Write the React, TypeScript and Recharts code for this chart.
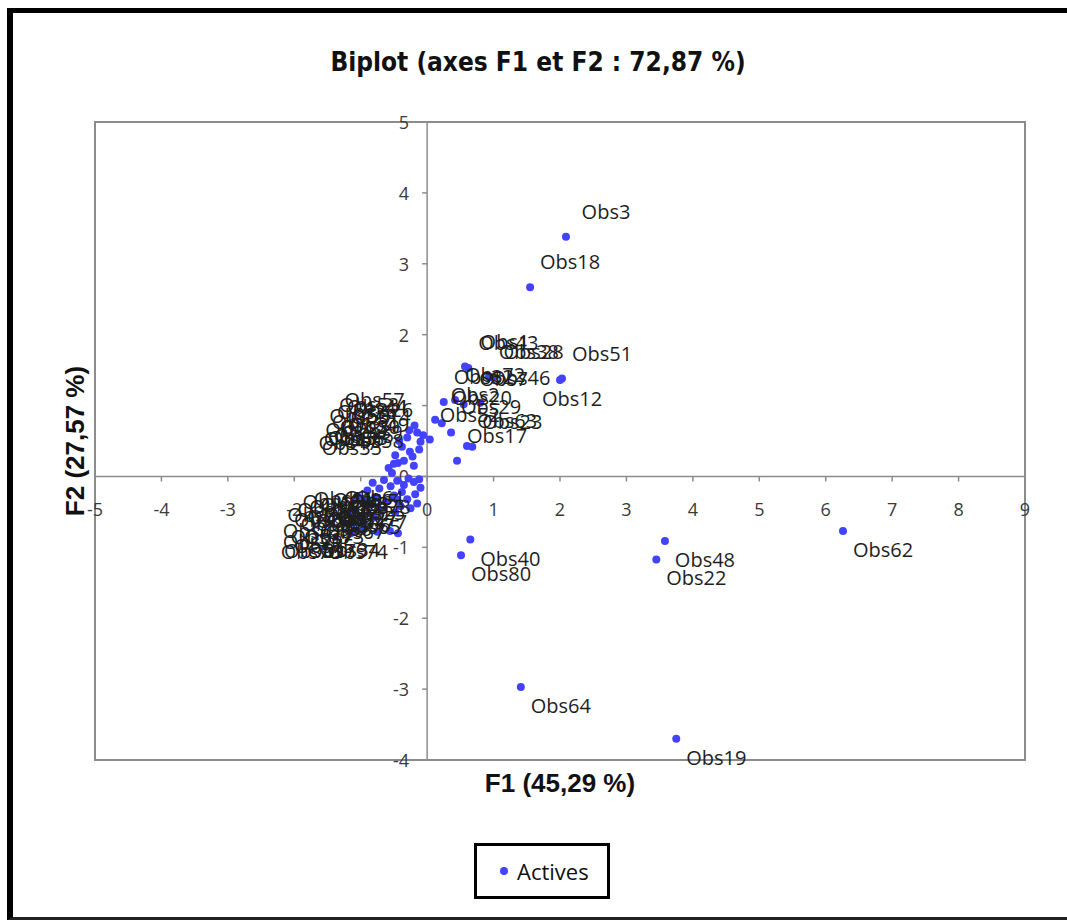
import React from "react";
import {
  ScatterChart,
  Scatter,
  XAxis,
  YAxis,
  ReferenceArea,
  ReferenceLine,
  ReferenceDot,
} from "recharts";

const xTicks = [-5, -4, -3, -2, -1, 0, 1, 2, 3, 4, 5, 6, 7, 8, 9];
const yTicks = [-4, -3, -2, -1, 0, 1, 2, 3, 4, 5];

const obsNames = [
  "Obs3", "Obs18", "Obs51", "Obs12", "Obs62", "Obs48", "Obs22", "Obs19", "Obs64", "Obs40",
  "Obs80", "Obs1", "Obs43", "Obs38", "Obs28", "Obs46", "Obs32", "Obs72", "Obs7", "Obs20",
  "Obs2", "Obs52", "Obs23", "Obs63", "Obs17", "Obs29",
  "Obs57", "Obs14", "Obs26", "Obs30", "Obs33", "Obs35", "Obs36", "Obs37", "Obs39", "Obs42",
  "Obs44", "Obs45", "Obs47", "Obs49", "Obs50", "Obs53", "Obs56", "Obs58",
  "Obs4", "Obs5", "Obs6", "Obs8", "Obs9", "Obs10", "Obs11", "Obs13", "Obs15", "Obs16",
  "Obs21", "Obs24", "Obs25", "Obs27", "Obs31", "Obs34", "Obs41", "Obs54", "Obs55", "Obs59",
  "Obs60", "Obs61", "Obs65", "Obs66", "Obs67", "Obs68", "Obs69", "Obs70", "Obs71", "Obs73",
  "Obs74", "Obs75", "Obs76", "Obs77", "Obs78", "Obs79",
];

const f1Values = [
  2.09, 1.55, 2.03, 2.0, 6.26, 3.58, 3.45, 3.75, 1.41, 0.65,
  0.51, 0.57, 0.62, 0.93, 1.0, 0.8, 0.25, 0.42, 0.55, 0.22,
  0.12, 0.04, 0.68, 0.6, 0.45, 0.36,
  -0.19, -0.1, -0.06, -0.26, -0.44, -0.53, -0.3, -0.38, -0.22, -0.48,
  -0.15, -0.35, -0.58, -0.12, -0.42, -0.27, -0.5, -0.2,
  -0.12, -0.2, -0.28, -0.35, -0.45, -0.55, -0.65, -0.72, -0.82, -0.9,
  -0.38, -1.05, -0.18, -0.3, -0.5, -0.56, -0.62, -0.75, -0.85, -1.1,
  -0.95, -1.12, -0.25, -0.4, -0.48, -0.68, -1.0, -1.12, -0.45, -0.8,
  -0.44, -0.95, -1.15, -0.15, -0.1, -0.75,
];

const f2Values = [
  3.38, 2.67, 1.38, 1.36, -0.77, -0.91, -1.17, -3.7, -2.97, -0.89,
  -1.11, 1.55, 1.53, 1.4, 1.4, 1.04, 1.05, 1.08, 1.02, 0.75,
  0.8, 0.52, 0.42, 0.43, 0.22, 0.62,
  0.72, 0.49, 0.58, 0.35, 0.19, 0.05, 0.55, 0.42, 0.28, 0.3,
  0.62, 0.22, 0.12, 0.38, 0.5, 0.65, 0.18, 0.15,
  -0.04, -0.08, -0.03, -0.12, -0.06, -0.14, -0.05, -0.17, -0.09, -0.2,
  -0.22, -0.28, -0.25, -0.32, -0.27, -0.77, -0.36, -0.3, -0.4, -0.78,
  -0.34, -0.5, -0.45, -0.42, -0.51, -0.48, -0.58, -0.65, -0.33, -0.58,
  -0.8, -0.72, -0.8, -0.38, -0.16, -0.78,
];

// labels that the original placed under their point although F2 > 0
const labelsBelow = new Set(["Obs12"]);

const points = obsNames.map((name, i) => ({ name, x: f1Values[i], y: f2Values[i] }));

const DOT_COLOR = "#4343ff";
const AXIS_COLOR = "#8c8c8c";
const TEXT_FONT = "'Open Sans', sans-serif";

function ObsDot(props: any) {
  const { cx, cy } = props;
  return <circle cx={cx} cy={cy} r={4} fill={DOT_COLOR} />;
}

function ObsLabel(props: any) {
  const { cx, cy, payload } = props;
  const right = payload.x >= 0;
  const flipped = labelsBelow.has(payload.name);
  const below = payload.y < 0 || flipped;
  const dx = flipped ? 12 : 40;
  return (
    <text
      x={cx + (right ? dx : -dx)}
      y={below ? cy + 26 : cy - 18}
      textAnchor="middle"
      fontFamily={TEXT_FONT}
      fontSize={20}
      fill="#1e1e1e"
    >
      {payload.name}
    </text>
  );
}

function XTick(props: any, t: number) {
  const { cx, cy } = props;
  return (
    <g>
      <line x1={cx} y1={cy} x2={cx} y2={cy + 5} stroke={AXIS_COLOR} strokeWidth={1.5} />
      <text x={cx} y={cy + 40} textAnchor="middle" fontFamily={TEXT_FONT} fontSize={18} fill="#3a3a3a">
        {t}
      </text>
    </g>
  );
}

function YTick(props: any, t: number) {
  const { cx, cy } = props;
  return (
    <g>
      <line x1={cx - 5} y1={cy} x2={cx} y2={cy} stroke={AXIS_COLOR} strokeWidth={1.5} />
      <text x={cx - 18} y={cy + 7} textAnchor="end" fontFamily={TEXT_FONT} fontSize={18} fill="#3a3a3a">
        {t}
      </text>
    </g>
  );
}

export default function App() {
  return (
    <div
      style={{
        position: "absolute",
        left: 0,
        top: 0,
        width: 1067,
        height: 921,
        background: "#fff",
        overflow: "hidden",
      }}
    >
      <style>{`body{margin:0}`}</style>
      <div
        style={{
          position: "absolute",
          left: 7,
          top: 8,
          width: 1080,
          height: 912,
          borderLeft: "6px solid #000",
          borderTop: "5px solid #000",
          borderBottom: "3px solid #222",
          boxSizing: "border-box",
        }}
      />
      <div
        style={{
          position: "absolute",
          left: 0,
          top: 46,
          width: 1076,
          textAlign: "center",
          fontFamily: "'Liberation Sans Narrow', 'DejaVu Sans Condensed', sans-serif",
          fontWeight: "bold",
          fontSize: 26,
          lineHeight: "32px",
          color: "#111",
        }}
      >
        Biplot (axes F1 et F2 : 72,87 %)
      </div>

      <div style={{ position: "absolute", left: 0, top: 0 }}>
        <ScatterChart
          width={1067}
          height={921}
          margin={{ top: 122, right: 42, bottom: 161, left: 95 }}
        >
          <XAxis type="number" dataKey="x" domain={[-5, 9]} ticks={xTicks} hide />
          <YAxis type="number" dataKey="y" domain={[-4, 5]} ticks={yTicks} hide />
          <ReferenceArea
            x1={-5}
            x2={9}
            y1={-4}
            y2={5}
            fill="none"
            fillOpacity={0}
            stroke={AXIS_COLOR}
            strokeWidth={2}
            ifOverflow="visible"
          />
          <ReferenceLine x={0} stroke={AXIS_COLOR} strokeWidth={1.5} />
          <ReferenceLine y={0} stroke={AXIS_COLOR} strokeWidth={1.5} />
          {xTicks.map((t) => (
            <ReferenceDot
              key={"x" + t}
              x={t}
              y={0}
              r={0}
              ifOverflow="visible"
              shape={(p: any) => XTick(p, t)}
            />
          ))}
          {yTicks.map((t) => (
            <ReferenceDot
              key={"y" + t}
              x={0}
              y={t}
              r={0}
              ifOverflow="visible"
              shape={(p: any) => YTick(p, t)}
            />
          ))}
          <Scatter name="Actives" data={points} shape={ObsDot} isAnimationActive={false} />
          <Scatter name="labels" data={points} shape={ObsLabel} isAnimationActive={false} />
        </ScatterChart>
      </div>

      <div
        style={{
          position: "absolute",
          left: 360,
          top: 768,
          width: 400,
          textAlign: "center",
          fontFamily: "'Liberation Sans', Arial, sans-serif",
          fontWeight: "bold",
          fontSize: 26,
          lineHeight: "30px",
          color: "#111",
        }}
      >
        F1 (45,29 %)
      </div>
      <div
        style={{
          position: "absolute",
          left: -75,
          top: 426,
          width: 300,
          height: 30,
          transform: "rotate(-90deg)",
          textAlign: "center",
          fontFamily: "'Liberation Sans', Arial, sans-serif",
          fontWeight: "bold",
          fontSize: 26,
          lineHeight: "30px",
          color: "#111",
        }}
      >
        F2 (27,57 %)
      </div>

      <div
        style={{
          position: "absolute",
          left: 474,
          top: 843,
          width: 136,
          height: 56,
          border: "3px solid #000",
          boxSizing: "border-box",
          display: "flex",
          alignItems: "center",
          background: "#fff",
        }}
      >
        <span
          style={{
            display: "inline-block",
            width: 8,
            height: 8,
            borderRadius: 4,
            background: DOT_COLOR,
            marginLeft: 23,
            marginRight: 9,
          }}
        />
        <span style={{ fontFamily: TEXT_FONT, fontSize: 22, color: "#111" }}>Actives</span>
      </div>
    </div>
  );
}
